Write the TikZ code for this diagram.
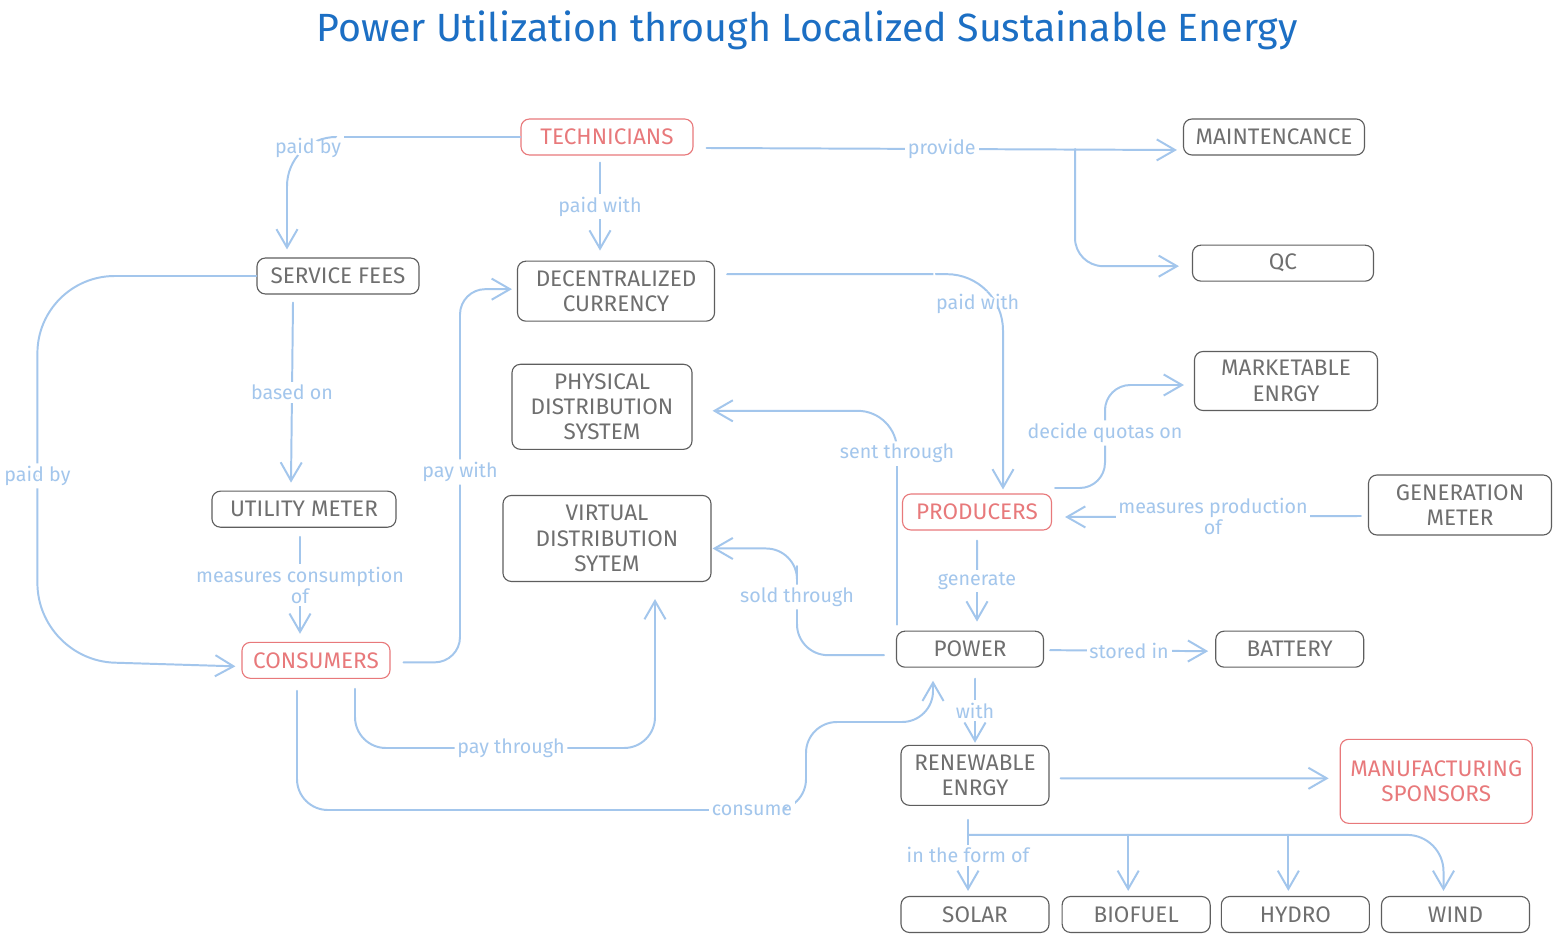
\documentclass[tikz,border=0pt]{standalone}
\usepackage{fontspec}
\setmainfont{Fira Sans}
\usetikzlibrary{arrows.meta, positioning, calc}

\definecolor{boxline}{HTML}{5E5E5E}
\definecolor{boxtext}{HTML}{6F6F6F}
\definecolor{actorred}{HTML}{E8797B}
\definecolor{linkblue}{HTML}{A3C6EC}
\definecolor{titleblue}{HTML}{1C6FC4}

\begin{document}
\begin{tikzpicture}[
		x=0.025cm, y=-0.025cm,
		% Boxes for concepts and for the actors
		box/.style = {draw=boxline, fill=white, rectangle, rounded corners=6pt, line width=0.8pt, minimum width=3.7cm, minimum height=0.9cm, align=center, text=boxtext, inner sep=2pt, font=\fontsize{16}{18}\selectfont},
		actor/.style = {box, draw=actorred, text=actorred},
		link/.style = {draw=linkblue, line width=1.4pt, line cap=round, line join=round},
		lbl/.style = {fill=white, text=linkblue, inner sep=2pt, align=center, font=\fontsize{14}{15}\selectfont},
		>={Straight Barb[length=13pt, width=15pt]}
		]
		
		\path[use as bounding box, fill=white] (0,0) rectangle (1562,944);
		
		% --- TITLE ---
		\node [text=titleblue, font=\fontsize{28}{32}\selectfont] (title) at (807,30) {Power Utilization through Localized Sustainable Energy};
		
		% --- TOP ROW ---
		\node [actor, minimum width=4.3cm] (tech) at (607,137) {TECHNICIANS};
		\node [box, minimum width=4.525cm] (maint) at (1274,137) {MAINTENCANCE};
		\node [box, minimum width=4.525cm, below=2.225cm of maint, xshift=0.225cm] (qc) {QC};
		
		% --- CONSUMER SIDE ---
		\node [box, minimum width=4.05cm] (sfees) at (338,276) {SERVICE FEES};
		\node [box, minimum width=4.6cm, below=4.9cm of sfees, xshift=-0.85cm] (umeter) {UTILITY METER};
		\node [actor, below=2.85cm of umeter, xshift=0.3cm] (cons) {CONSUMERS};
		
		% --- CURRENCY AND DISTRIBUTION ---
		\node [box, minimum width=4.925cm, minimum height=1.5cm, below=2.625cm of tech, xshift=0.225cm] (dcur) {DECENTRALIZED\\CURRENCY};
		\node [box, minimum width=4.5cm, minimum height=2.125cm, below=1.05cm of dcur, xshift=-0.35cm] (pdist) {PHYSICAL\\DISTRIBUTION\\SYSTEM};
		\node [box, minimum width=5.2cm, minimum height=2.15cm, below=1.125cm of pdist, xshift=0.125cm] (vdist) {VIRTUAL\\DISTRIBUTION\\SYTEM};
		
		% --- PRODUCER SIDE ---
		\node [box, minimum width=4.575cm, minimum height=1.475cm] (mkt) at (1286,381) {MARKETABLE\\ENRGY};
		\node [actor, minimum width=3.725cm] (prod) at (977,512) {PRODUCERS};
		\node [box, minimum width=4.575cm, minimum height=1.5cm] (gmeter) at (1460,505) {GENERATION\\METER};
		\node [box, minimum width=3.675cm, below=2.5cm of prod, xshift=-0.175cm] (power) {POWER};
		\node [box, right=4.275cm of power] (battery) {BATTERY};
		\node [box, minimum height=1.5cm, below=1.925cm of power, xshift=0.125cm] (renew) {RENEWABLE\\ENRGY};
		\node [actor, minimum width=4.8cm, minimum height=2.1cm, right=7.25cm of renew, yshift=-0.15cm] (manuf) {MANUFACTURING\\SPONSORS};
		
		% --- ENERGY SOURCES ---
		\node [box, below=2.25cm of renew] (solar) {SOLAR};
		\node [box, right=0.3cm of solar] (bio) {BIOFUEL};
		\node [box, right=0.25cm of bio] (hydro) {HYDRO};
		\node [box, right=0.275cm of hydro] (wind) {WIND};
		
		% --- TECHNICIAN LINKS ---
		\draw [link, ->, rounded corners=35pt] (tech.west) -| node[lbl, pos=0.5, xshift=15pt, yshift=-8pt] {paid by} ($(sfees.north)+(-51,-8)$);
		\draw [link, ->] ($(tech.south)+(-7,7)$) -- node[lbl] {paid with} ($(dcur.north)+(-16,-10)$);
		\draw [link, ->] ($(tech.east)+(13,11)$) -- node[lbl] {provide} ($(maint.west)+(-6,13)$);
		\coordinate (split) at (1075,149);
		\draw [link, ->, rounded corners=20pt] (split) |- ($(qc.west)+(-13,3)$);
		
		% --- CONSUMER LINKS ---
		\draw [link, ->] ($(sfees.south)+(-45,8)$) -- node[lbl] {based on} ($(umeter.north)+(-13,-8)$);
		\draw [link, ->, rounded corners=55pt] (sfees.west) -| node[lbl, pos=0.76] {paid by} ($(cons.west)+(-204,0)$) -- ($(cons.west)+(-6,6)$);
		\draw [link, ->] ($(umeter.south)+(-4,9)$) -- node[lbl] {measures consumption\\of} ($(cons.north)+(-16,-8)$);
		
		\coordinate (paywith) at (460,472);
		\draw [link, ->, rounded corners=18pt] ($(cons.east)+(13,2)$) -| (paywith) node[lbl] {pay with} |- ($(dcur.west)+(-5,-2)$);
		
		\coordinate (paythru) at (511,748);
		\draw [link, ->, rounded corners=22pt] ($(cons.south)+(39,10)$) |- (paythru) node[lbl] {pay through} -| ($(vdist.south)+(48,17)$);
		
		\coordinate (consume) at (752,810);
		\coordinate (cstep) at (806,722);
		\draw [link, ->, rounded corners=22pt] ($(cons.south)+(-19,12)$) |- (consume) node[lbl] {consume} -| (cstep) -| ($(power.south)+(-37,13)$);
		
		% --- DISTRIBUTION LINKS ---
		\draw [link, ->, rounded corners=28pt] ($(power.north)+(-73,-6)$) |- node[lbl, pos=0.4] {sent through} ($(pdist.east)+(20,4)$);
		\coordinate (soldthru) at (797,597);
		\draw [link, ->, rounded corners=22pt] ($(power.west)+(-12,6)$) -| (soldthru) node[lbl] {sold through} |- ($(vdist.east)+(1,10)$);
		
		% --- PRODUCER LINKS ---
		\draw [link, ->, rounded corners=40pt] ($(dcur.east)+(12,-17)$) -| node[lbl, pos=0.5, xshift=-18pt, yshift=-21pt] {paid with} ($(prod.north)+(26,-4)$);
		\coordinate (quota) at (1105,433);
		\draw [link, ->, rounded corners=18pt] ($(prod.east)+(3,-24)$) -| (quota) node[lbl] {decide quotas on} |- ($(mkt.west)+(-10,4)$);
		\draw [link, ->] ($(gmeter.west)+(-7,11)$) -- node[lbl] {measures production\\of} ($(prod.east)+(13,5)$);
		\draw [link, ->] ($(prod.south)+(0,10)$) -- node[lbl] {generate} ($(power.north)+(7,-9)$);
		\draw [link, ->] ($(power.east)+(6,1)$) -- node[lbl] {stored in} ($(battery.west)+(-7,2)$);
		\draw [link, ->] ($(power.south)+(5,11)$) -- node[lbl] {with} ($(renew.north)+(0,-2)$);
		\draw [link, ->] ($(renew.east)+(11,3)$) -- ($(manuf.west)+(-11,-3)$);
		
		% --- SOURCE LINKS ---
		\draw [link, ->] ($(renew.south)+(-7,14)$) -- node[lbl] {in the form of} ($(solar.north)+(-7,-5)$);
		\coordinate (fork) at ($(renew.south)+(-7,29)$);
		\coordinate (biotip) at ($(bio.north)+(-8,-5)$);
		\coordinate (hydrotip) at ($(hydro.north)+(-7,-5)$);
		\coordinate (windtip) at ($(wind.north)+(-12,-5)$);
		\draw [link, ->, rounded corners=26pt] (fork) -| (windtip);
		\draw [link, ->] (fork -| biotip) -- (biotip);
		\draw [link, ->] (fork -| hydrotip) -- (hydrotip);
		
	\end{tikzpicture}
\end{document}
